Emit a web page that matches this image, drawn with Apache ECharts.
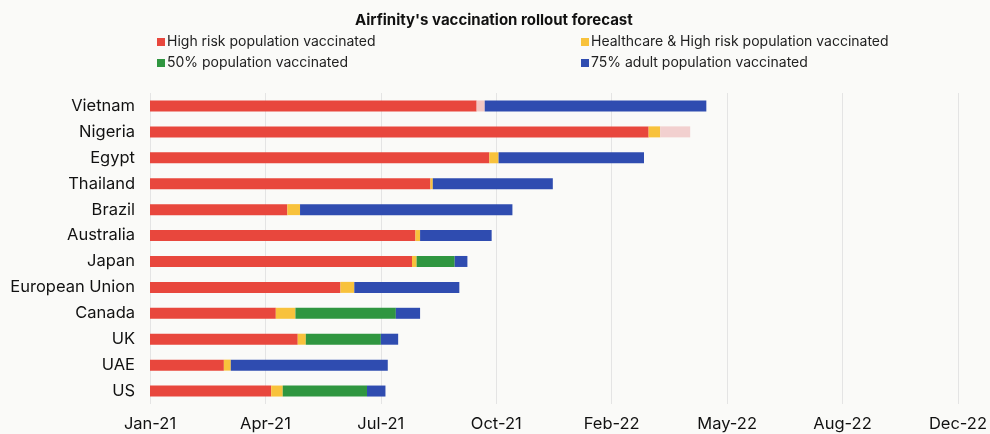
<!DOCTYPE html>
<html>
<head>
<meta charset="utf-8">
<script src="https://cdn.jsdelivr.net/npm/echarts@6/dist/echarts.min.js"></script>
<style>
html,body{margin:0;padding:0;background:#fafaf8;}
#chart{width:990px;height:434px;}
</style>
</head>
<body>
<div id="chart"></div>
<script>
// Days since 1 Jan 2021 at which each milestone is reached (cumulative end points)
const categories = ['Vietnam','Nigeria','Egypt','Thailand','Brazil','Australia','Japan','European Union','Canada','UK','UAE','US'];
const highRiskEnd   = [283, 432, 294, 243, 119, 230, 227, 165, 109, 128, 64, 105];
const healthcareEnd = [290, 442, 302, 245, 130, 234, 231, 177, 126, 135, 70, 115];
const fiftyPctEnd   = [290, 442, 302, 245, 130, 234, 264, 177, 213, 200, 70, 188];
const adultEnd      = [482, 468, 428, 349, 314, 296, 275, 268, 234, 215, 206, 204];
const tickDays = [0, 100, 200, 300, 400, 500, 600, 700];
const seriesNames = ['High risk population vaccinated','Healthcare & High risk population vaccinated','50% population vaccinated','75% adult population vaccinated'];

const colors = ['#e8473d','#f8c23c','#2f9640','#2f4cb0'];
const fadedItems = { 'Vietnam|1': '#f3c7c2', 'Nigeria|3': '#f2d0cf' };

const ends = [highRiskEnd, healthcareEnd, fiftyPctEnd, adultEnd];
const series = ends.map((arr, si) => ({
  name: seriesNames[si],
  type: 'bar',
  stack: 'total',
  barWidth: 11,
  itemStyle: { color: colors[si] },
  data: arr.map((v, i) => {
    const prev = si === 0 ? 0 : ends[si - 1][i];
    const val = v - prev;
    const key = categories[i] + '|' + si;
    return fadedItems[key] ? { value: val, itemStyle: { color: fadedItems[key] } } : val;
  })
}));

const months = ['Jan','Feb','Mar','Apr','May','Jun','Jul','Aug','Sep','Oct','Nov','Dec'];
function dayLabel(v) {
  const d = new Date(Date.UTC(2021, 0, 1) + v * 86400000);
  return months[d.getUTCMonth()] + '-' + String(d.getUTCFullYear()).slice(2);
}

const chart = echarts.init(document.getElementById('chart'));
chart.setOption({
  backgroundColor: '#fafaf8',
  animation: false,
  textStyle: { fontFamily: 'Inter' },
  title: {
    text: "Airfinity's vaccination rollout forecast",
    left: 350, top: 8,
    textStyle: { fontSize: 15, fontWeight: 'bold', color: '#111', fontFamily: 'Inter' }
  },
  legend: [
    { data: [seriesNames[0], seriesNames[2]], orient: 'vertical', left: 152, top: 30, itemGap: 7,
      icon: 'rect', itemWidth: 8, itemHeight: 8, selectedMode: false,
      textStyle: { fontSize: 14, color: '#222', padding: [0, 0, 0, -3], fontFamily: 'Inter' } },
    { data: [seriesNames[1], seriesNames[3]], orient: 'vertical', left: 576, top: 30, itemGap: 7,
      icon: 'rect', itemWidth: 8, itemHeight: 8, selectedMode: false,
      textStyle: { fontSize: 14, color: '#222', padding: [0, 0, 0, -3], fontFamily: 'Inter' } }
  ],
  grid: { left: 150, right: 30, top: 93, bottom: 30, containLabel: false },
  xAxis: {
    type: 'value', min: tickDays[0], max: tickDays[tickDays.length - 1], interval: 100,
    axisLine: { show: false }, axisTick: { show: false },
    splitLine: { show: true, lineStyle: { color: '#e4e4e4', width: 1 } },
    axisLabel: { formatter: dayLabel, fontSize: 16.5, color: '#111', margin: 12, fontFamily: 'Inter' }
  },
  yAxis: {
    type: 'category', data: categories, inverse: true,
    axisLine: { show: false }, axisTick: { show: false },
    axisLabel: { fontSize: 16.5, color: '#111', margin: 15, fontFamily: 'Inter' }
  },
  series: series
});
</script>
</body>
</html>
